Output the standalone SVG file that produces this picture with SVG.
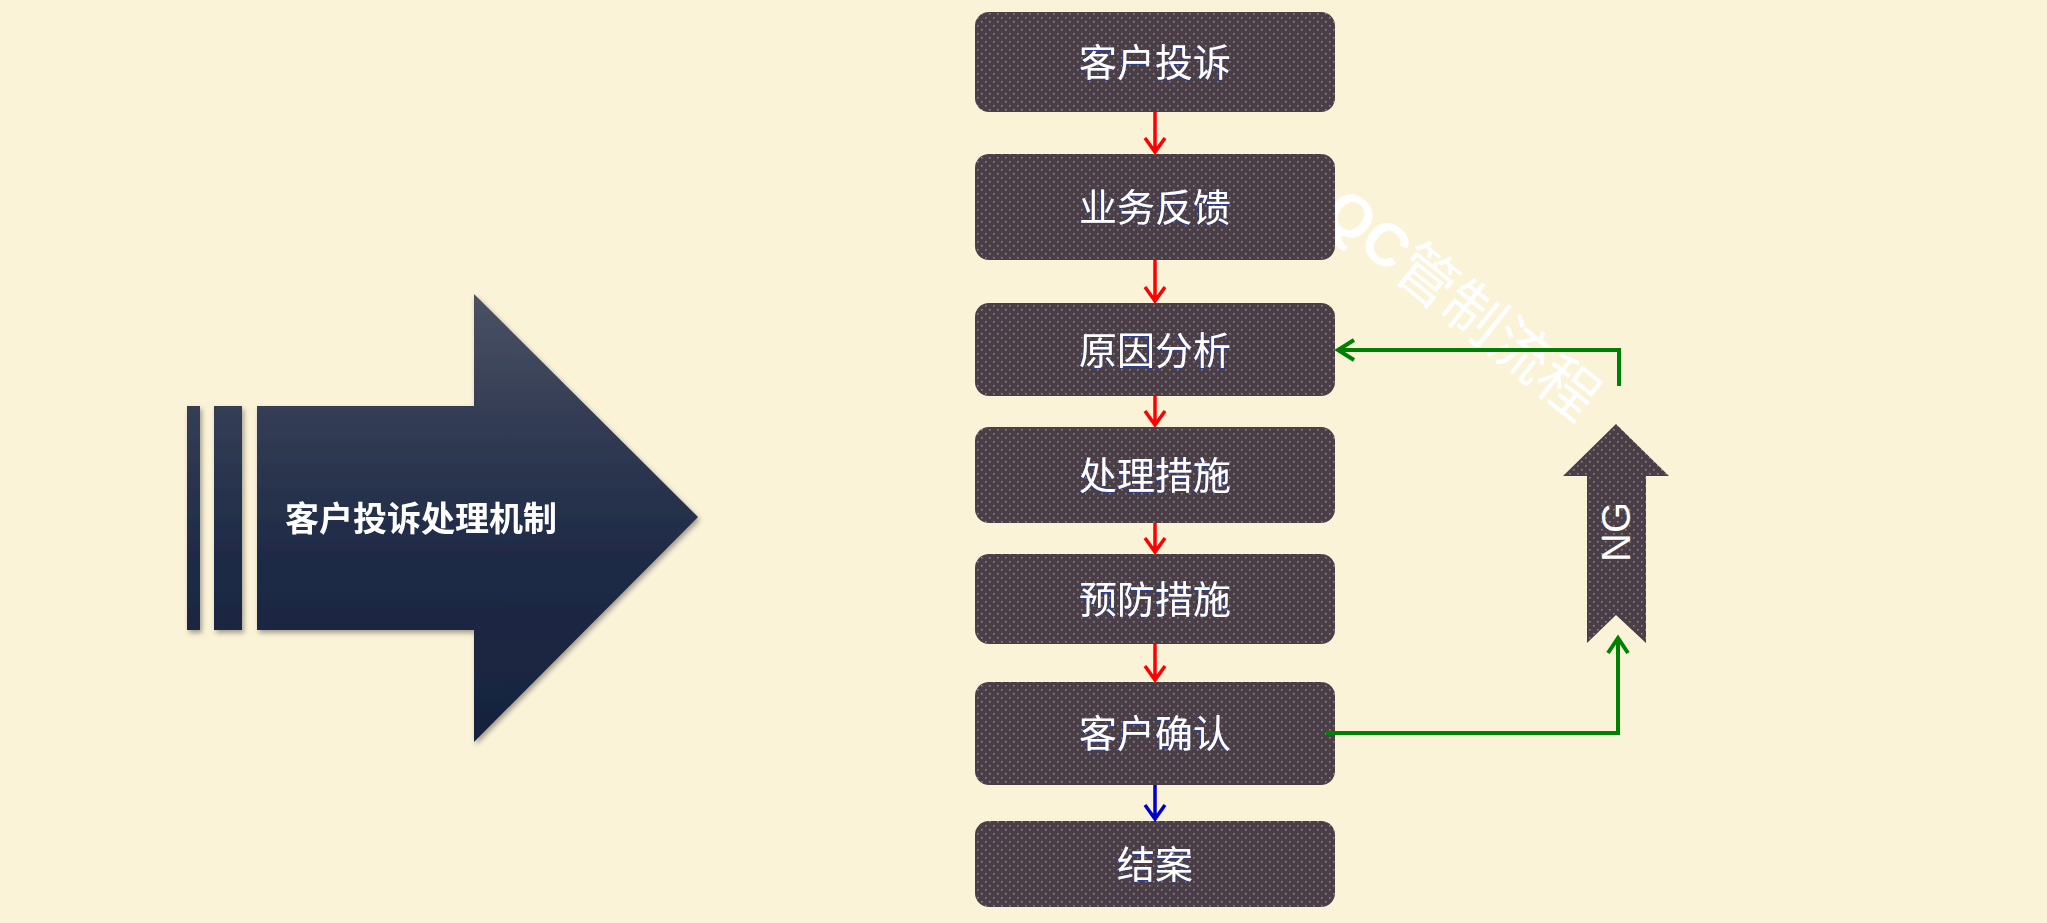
<svg xmlns="http://www.w3.org/2000/svg" width="2047" height="923" viewBox="0 0 2047 923">
<defs>
<style>
.box{fill:url(#dots);}
.lbl{font-family:"Noto Sans CJK SC","Liberation Sans",sans-serif;font-size:38px;fill:#ffffff;text-anchor:middle;filter:url(#tsh);}
.red{stroke:#ff0000;stroke-width:3.5;fill:none;}
.blue{stroke:#0000cc;stroke-width:3.5;fill:none;}
.green{stroke:#008000;stroke-width:4;fill:none;}
</style>
<pattern id="dots" width="8" height="8" patternUnits="userSpaceOnUse">
<rect width="8" height="8" fill="#4a3e47"/>
<rect x="1" y="1" width="1.6" height="1.6" fill="#8e8190"/>
<rect x="5" y="5" width="1.6" height="1.6" fill="#8e8190"/>
</pattern>
<linearGradient id="navy" x1="0" y1="294" x2="0" y2="742" gradientUnits="userSpaceOnUse">
<stop offset="0" stop-color="#4b5264"/>
<stop offset="0.3" stop-color="#313b53"/>
<stop offset="0.6" stop-color="#1e2a45"/>
<stop offset="1" stop-color="#17233d"/>
</linearGradient>
<filter id="sh" x="-10%" y="-10%" width="120%" height="120%">
<feDropShadow dx="2" dy="3" stdDeviation="2.5" flood-color="#000" flood-opacity="0.35"/>
</filter>
<filter id="tsh" x="-5%" y="-20%" width="110%" height="140%">
<feDropShadow dx="-1" dy="1" stdDeviation="0.4" flood-color="#2040a0" flood-opacity="0.8"/>
</filter>
</defs>
<rect width="2047" height="923" fill="#fbf3d8"/>

<g id="big-arrow" filter="url(#sh)">
<rect x="187" y="406" width="13" height="224" fill="url(#navy)"/>
<rect x="214" y="406" width="28" height="224" fill="url(#navy)"/>
<polygon points="257,406 474,406 474,294 698,517 474,742 474,630 257,630" fill="url(#navy)"/>
<text x="421" y="531" font-family="'Noto Sans CJK SC','Liberation Sans',sans-serif" font-size="34" font-weight="bold" fill="#ffffff" text-anchor="middle">客户投诉处理机制</text>
</g>

<g id="watermark">
<text transform="translate(1462,304) rotate(38.5)" x="0" y="21" font-family="'Noto Sans CJK SC','Liberation Sans',sans-serif" font-size="60" fill="#ffffff" text-anchor="middle"><tspan font-family="'Liberation Sans',sans-serif" font-weight="bold">QC</tspan>管制流程</text>
</g>

<g id="n1"><rect class="box" x="975" y="12" width="360" height="100" rx="14"/><text class="lbl" x="1155" y="76">客户投诉</text></g>
<g id="n2"><rect class="box" x="975" y="154" width="360" height="106" rx="14"/><text class="lbl" x="1155" y="221">业务反馈</text></g>
<g id="n3"><rect class="box" x="975" y="303" width="360" height="93" rx="14"/><text class="lbl" x="1155" y="364">原因分析</text></g>
<g id="n4"><rect class="box" x="975" y="427" width="360" height="96" rx="14"/><text class="lbl" x="1155" y="489">处理措施</text></g>
<g id="n5"><rect class="box" x="975" y="554" width="360" height="90" rx="14"/><text class="lbl" x="1155" y="613">预防措施</text></g>
<g id="n6"><rect class="box" x="975" y="682" width="360" height="103" rx="14"/><text class="lbl" x="1155" y="747">客户确认</text></g>
<g id="n7"><rect class="box" x="975" y="821" width="360" height="86" rx="14"/><text class="lbl" x="1155" y="878">结案</text></g>

<g id="ng">
<polygon points="1616,424 1669,476 1646,476 1646,643 1616,615 1587,643 1587,476 1563,476" fill="url(#dots)"/>
<text transform="translate(1616,532) rotate(-90)" x="0" y="14" font-family="'Liberation Sans',sans-serif" font-size="40" fill="#ffffff" text-anchor="middle">NG</text>
</g>

<g id="connectors">
<path class="red" d="M1155,112 V152 M1145,138 L1155,152 L1165,138"/>
<path class="red" d="M1155,260 V301 M1145,287 L1155,301 L1165,287"/>
<path class="red" d="M1155,396 V425 M1145,411 L1155,425 L1165,411"/>
<path class="red" d="M1155,523 V552 M1145,538 L1155,552 L1165,538"/>
<path class="red" d="M1155,644 V680 M1145,666 L1155,680 L1165,666"/>
<path class="blue" d="M1155,785 V819 M1145,805 L1155,819 L1165,805"/>
<path class="green" d="M1619,386 V350 H1338 M1354,340 L1338,350 L1354,360"/>
<path class="green" d="M1326,733 H1618 V638 M1608,653 L1618,638 L1628,653"/>
</g>
</svg>
